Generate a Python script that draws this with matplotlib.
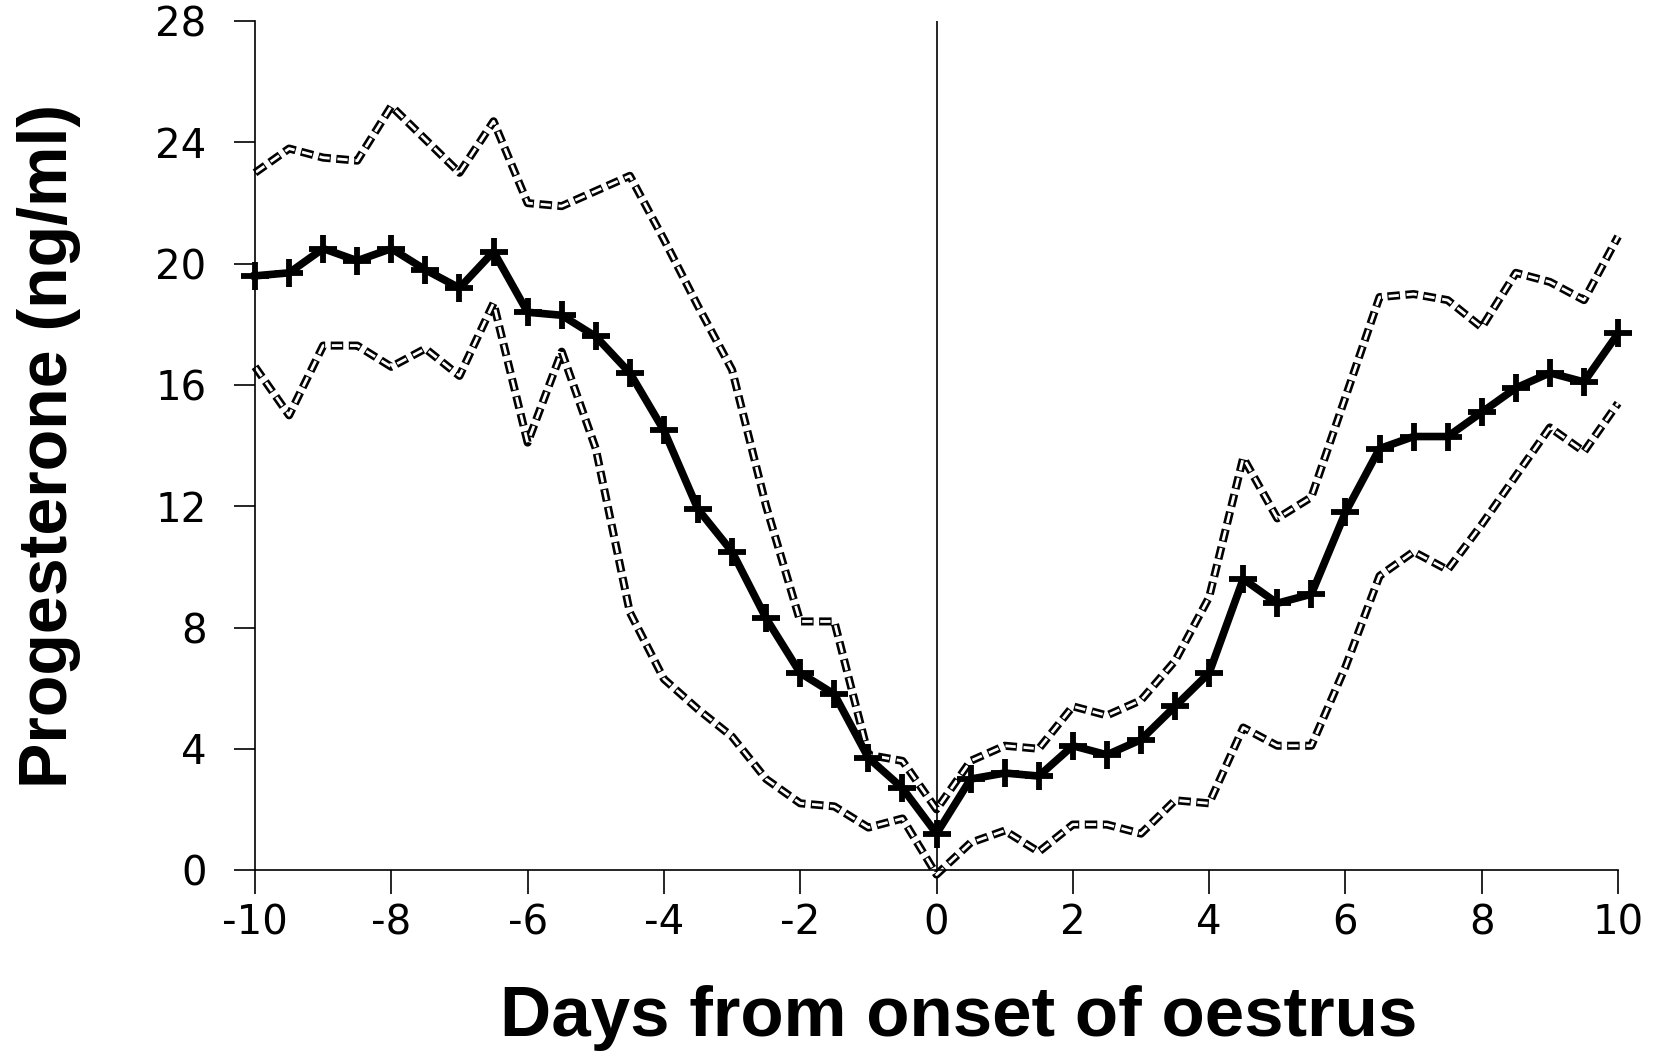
import matplotlib
matplotlib.use("Agg")
import matplotlib.pyplot as plt

# days from onset of oestrus (sampled every half day)
days = [-10, -9.5, -9, -8.5, -8, -7.5, -7, -6.5, -6, -5.5, -5, -4.5, -4, -3.5,
        -3, -2.5, -2, -1.5, -1, -0.5, 0, 0.5, 1, 1.5, 2, 2.5, 3, 3.5, 4, 4.5,
        5, 5.5, 6, 6.5, 7, 7.5, 8, 8.5, 9, 9.5, 10]

# mean progesterone (ng/ml)
mean_p4 = [19.6, 19.7, 20.5, 20.1, 20.5, 19.8, 19.2, 20.4, 18.4, 18.3, 17.6,
           16.4, 14.5, 11.9, 10.5, 8.3, 6.5, 5.8, 3.7, 2.7, 1.2, 3.0, 3.2, 3.1,
           4.1, 3.8, 4.3, 5.4, 6.5, 9.6, 8.8, 9.1, 11.8, 13.9, 14.3, 14.3, 15.1,
           15.9, 16.4, 16.1, 17.7]

# upper and lower limits
upper_p4 = [23.0, 23.8, 23.5, 23.4, 25.2, 24.1, 23.0, 24.7, 22.0, 21.9, 22.4,
            22.9, 20.8, 18.6, 16.5, 12.0, 8.2, 8.2, 3.8, 3.6, 2.0, 3.6, 4.1, 4.0,
            5.4, 5.1, 5.6, 6.9, 9.0, 13.6, 11.6, 12.3, 15.6, 18.9, 19.0, 18.8,
            17.9, 19.7, 19.4, 18.8, 20.9]

lower_p4 = [16.6, 15.0, 17.3, 17.3, 16.6, 17.2, 16.3, 18.7, 14.1, 17.1, 13.9,
            8.5, 6.3, 5.3, 4.4, 3.0, 2.2, 2.1, 1.4, 1.7, -0.15, 0.9, 1.3, 0.6,
            1.5, 1.5, 1.2, 2.3, 2.2, 4.7, 4.1, 4.1, 6.7, 9.7, 10.5, 9.9, 11.4,
            13.0, 14.6, 13.8, 15.4]

x_ticks = [-10, -8, -6, -4, -2, 0, 2, 4, 6, 8, 10]
y_ticks = [0, 4, 8, 12, 16, 20, 24, 28]

plt.rcParams['axes.unicode_minus'] = False
plt.rcParams['lines.scale_dashes'] = False

fig = plt.figure(figsize=(16.57, 10.61), dpi=100)
ax = fig.add_axes([0.1539, 0.180, 0.8226, 0.800])

# limits drawn as hollow (double) dashes: black dash with a white core
dash_on, dash_off, inset = 9.0, 4.0, 0.8
for band in (upper_p4, lower_p4):
    ax.plot(days, band, color='black', lw=5.8, clip_on=False,
            linestyle=(0, (dash_on, dash_off)), zorder=2)
    ax.plot(days, band, color='white', lw=2.0, clip_on=False,
            linestyle=(dash_on + dash_off - inset,
                       (dash_on - 2 * inset, dash_off + 2 * inset)), zorder=2)

ax.axvline(0, color='black', lw=1.2, zorder=3)

ax.plot(days, mean_p4, color='black', lw=5.5, marker='+', ms=20, mew=4.2,
        clip_on=False, zorder=5)

ax.set_xlim(-10, 10)
ax.set_ylim(0, 28)
ax.set_xticks(x_ticks)
ax.set_yticks(y_ticks)

for side in ('top', 'right'):
    ax.spines[side].set_visible(False)
for side in ('left', 'bottom'):
    ax.spines[side].set_linewidth(1.2)

ax.tick_params(axis='y', direction='out', length=15, width=1.2, pad=20,
               labelsize=29)
ax.tick_params(axis='x', direction='out', length=17, width=1.2, pad=7,
               labelsize=29)
for lab in ax.get_xticklabels() + ax.get_yticklabels():
    lab.set_fontfamily('DejaVu Sans')

ax.set_xlabel("Days from onset of oestrus", fontsize=51, fontweight='bold',
              family='Liberation Sans')
ax.set_ylabel("Progesterone (ng/ml)", fontsize=49, fontweight='bold',
              family='Liberation Sans')
ax.xaxis.set_label_coords(0.5165, -0.1355)
ax.yaxis.set_label_coords(-0.128, 0.5)

fig.savefig("out.png", dpi=100)
